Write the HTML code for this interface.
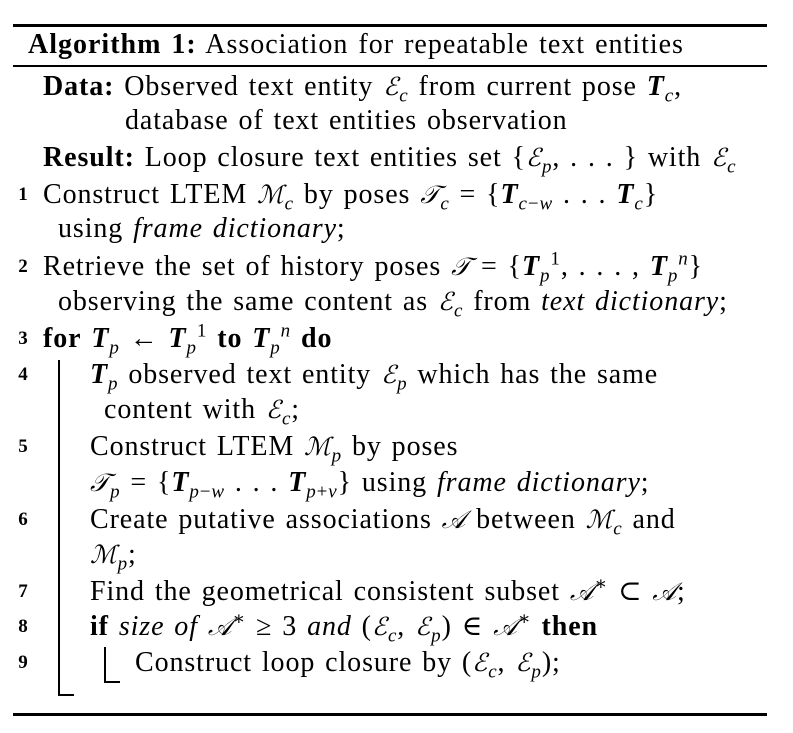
<!DOCTYPE html>
<html><head><meta charset="utf-8"><style>
body{margin:0;width:793px;height:733px;background:#fff;position:relative;overflow:hidden;font-family:"Liberation Serif","DejaVu Serif",serif;font-size:28px;color:#000}
.l{position:absolute;white-space:nowrap;line-height:30px;height:30px;word-spacing:2px;letter-spacing:0.9px}
.n{position:absolute;font-weight:bold;font-size:19px;line-height:30px;left:14px;width:18px;text-align:center}
.r{position:absolute;background:#000}
i{font-style:italic}
sub,sup{font-size:19px;line-height:0}
.s{font-family:"DejaVu Serif","Liberation Serif",serif;font-style:italic;font-size:25px}
</style></head><body>
<div class="r" style="left:13px;top:24px;width:754px;height:3px"></div>
<div class="r" style="left:13px;top:65px;width:754px;height:2px"></div>
<div class="r" style="left:13px;top:713px;width:754px;height:3px"></div>
<div class="r" style="left:58px;top:360px;width:2px;height:336px"></div>
<div class="r" style="left:58px;top:694px;width:16px;height:2px"></div>
<div class="r" style="left:104px;top:647px;width:2px;height:36px"></div>
<div class="r" style="left:104px;top:681px;width:16px;height:2px"></div>

<div class="l" style="left:28px;top:30px;letter-spacing:1px"><b>Algorithm 1:</b> Association for repeatable text entities</div>
<div class="l" style="left:43px;top:72px"><b>Data:</b> Observed text entity <span class="s">ℰ</span><sub><i>c</i></sub> from current pose <b><i>T</i></b><sub><i>c</i></sub>,</div>
<div class="l" style="left:125px;top:106px">database of text entities observation</div>
<div class="l" style="left:43px;top:143px"><b>Result:</b> Loop closure text entities set {<span class="s">ℰ</span><sub><i>p</i></sub>, . . . } with <span class="s">ℰ</span><sub><i>c</i></sub></div>
<div class="n" style="top:180px">1</div>
<div class="l" style="left:43px;top:180px">Construct LTEM <span class="s">ℳ</span><sub><i>c</i></sub> by poses <span class="s">𝒯</span><sub><i>c</i></sub> = {<b><i>T</i></b><sub><i>c</i>−<i>w</i></sub> . . . <b><i>T</i></b><sub><i>c</i></sub>}</div>
<div class="l" style="left:58px;top:214px">using <i>frame dictionary</i>;</div>
<div class="n" style="top:252px">2</div>
<div class="l" style="left:43px;top:252px">Retrieve the set of history poses <span class="s">𝒯</span> = {<b><i>T</i></b><sub><i>p</i></sub><sup>1</sup>, . . . , <b><i>T</i></b><sub><i>p</i></sub><sup><i>n</i></sup>}</div>
<div class="l" style="left:58px;top:287px">observing the same content as <span class="s">ℰ</span><sub><i>c</i></sub> from <i>text dictionary</i>;</div>
<div class="n" style="top:324px">3</div>
<div class="l" style="left:43px;top:324px"><b>for</b> <b><i>T</i></b><sub><i>p</i></sub> ← <b><i>T</i></b><sub><i>p</i></sub><sup>1</sup> <b>to</b> <b><i>T</i></b><sub><i>p</i></sub><sup><i>n</i></sup> <b>do</b></div>
<div class="n" style="top:360px">4</div>
<div class="l" style="left:90px;top:360px"><b><i>T</i></b><sub><i>p</i></sub> observed text entity <span class="s">ℰ</span><sub><i>p</i></sub> which has the same</div>
<div class="l" style="left:104px;top:395px">content with <span class="s">ℰ</span><sub><i>c</i></sub>;</div>
<div class="n" style="top:432px">5</div>
<div class="l" style="left:90px;top:432px">Construct LTEM <span class="s">ℳ</span><sub><i>p</i></sub> by poses</div>
<div class="l" style="left:90px;top:468px"><span class="s">𝒯</span><sub><i>p</i></sub> = {<b><i>T</i></b><sub><i>p</i>−<i>w</i></sub> . . . <b><i>T</i></b><sub><i>p</i>+<i>v</i></sub>} using <i>frame dictionary</i>;</div>
<div class="n" style="top:505px">6</div>
<div class="l" style="left:90px;top:505px">Create putative associations <span class="s">𝒜</span> between <span class="s">ℳ</span><sub><i>c</i></sub> and</div>
<div class="l" style="left:90px;top:540px"><span class="s">ℳ</span><sub><i>p</i></sub>;</div>
<div class="n" style="top:577px">7</div>
<div class="l" style="left:90px;top:577px">Find the geometrical consistent subset <span class="s">𝒜</span><sup>∗</sup> ⊂ <span class="s">𝒜</span>;</div>
<div class="n" style="top:612px">8</div>
<div class="l" style="left:90px;top:612px"><b>if</b> <i>size of</i> <span class="s">𝒜</span><sup>∗</sup> ≥ 3 <i>and</i> (<span class="s">ℰ</span><sub><i>c</i></sub>, <span class="s">ℰ</span><sub><i>p</i></sub>) ∈ <span class="s">𝒜</span><sup>∗</sup> <b>then</b></div>
<div class="n" style="top:648px">9</div>
<div class="l" style="left:135px;top:648px">Construct loop closure by (<span class="s">ℰ</span><sub><i>c</i></sub>, <span class="s">ℰ</span><sub><i>p</i></sub>);</div>
</body></html>
